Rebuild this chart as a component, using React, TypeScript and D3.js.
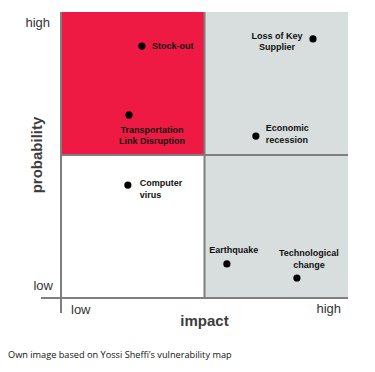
import React from 'react';
import * as d3 from 'd3';

// risks on a 0-10 impact / probability grid
const risks = ['Stock-out', 'Transportation Link Disruption', 'Loss of Key Supplier', 'Economic recession', 'Computer virus', 'Earthquake', 'Technological change'];
const impact = [2.82, 2.37, 8.78, 6.79, 2.33, 5.78, 8.22];
const probability = [8.81, 6.4, 9.06, 5.66, 3.95, 1.19, 0.7];
const labelLines = [['Stock-out'], ['Transportation', 'Link Disruption'], ['Loss of Key', 'Supplier'], ['Economic', 'recession'], ['Computer', 'virus'], ['Earthquake'], ['Technological', 'change']];
const levels = ['low', 'high'];

// label placement relative to its dot: dx, first-line dy, anchor
const placement: [number, number, string][] = [
  [10, 3, 'start'],
  [23, 18, 'middle'],
  [-36, 0, 'middle'],
  [10, -5, 'start'],
  [12, 1, 'start'],
  [7, -11, 'middle'],
  [12, -21.5, 'middle'],
];

const W = 375;
const H = 372;
const left = 61, right = 348, top = 12, bottom = 298;

export default function App() {
  const x = d3.scaleLinear().domain([0, 10]).range([left, right]);
  const y = d3.scaleLinear().domain([0, 10]).range([bottom, top]);
  const font = 'Arial, "Liberation Sans", sans-serif';
  const axisColor = '#7f7f7f';

  return (
    <svg width={W} height={H} style={{ position: 'absolute', left: 0, top: 0 }}>
      <rect width={W} height={H} fill="#fff" />
      {/* quadrants */}
      <rect x={x(0)} y={y(10)} width={x(5) - x(0)} height={y(5) - y(10)} fill="#ee1a44" />
      <rect x={x(5)} y={y(10)} width={x(10) - x(5)} height={y(5) - y(10)} fill="#d8dddd" />
      <rect x={x(5)} y={y(5)} width={x(10) - x(5)} height={y(0) - y(5)} fill="#d8dddd" />
      <rect x={x(0)} y={y(5)} width={x(5) - x(0)} height={y(0) - y(5)} fill="#fff" />
      {/* dividers */}
      <line x1={x(5)} x2={x(5)} y1={y(10)} y2={y(0)} stroke={axisColor} strokeWidth={2} />
      <line x1={x(0)} x2={x(10)} y1={y(5)} y2={y(5)} stroke={axisColor} strokeWidth={2} />
      {/* axes */}
      <line x1={x(0) - 20} x2={x(10)} y1={y(0)} y2={y(0)} stroke={axisColor} strokeWidth={2} />
      <line x1={x(0)} x2={x(0)} y1={y(10)} y2={y(0) + 15} stroke={axisColor} strokeWidth={2} />

      {/* level labels */}
      <g fontFamily={font} fontSize={13} fill="#333">
        <text x={x(0) - 11} y={y(10) + 15} textAnchor="end">{levels[1]}</text>
        <text x={x(0) - 8} y={y(0) - 8} textAnchor="end">{levels[0]}</text>
        <text x={x(0) + 10} y={y(0) + 16} textAnchor="start">{levels[0]}</text>
        <text x={x(10) - 7} y={y(0) + 15} textAnchor="end">{levels[1]}</text>
      </g>
      <g fontFamily={font} fontSize={15} fontWeight="bold" fill="#3c3c3c">
        <text x={(x(0) + x(10)) / 2} y={y(0) + 28} textAnchor="middle">impact</text>
        <text transform={`translate(42,${(y(0) + y(10)) / 2}) rotate(-90)`} textAnchor="middle">probability</text>
      </g>

      {/* risks */}
      {risks.map((r, i) => {
        const cx = x(impact[i]);
        const cy = y(probability[i]);
        const [dx, dy, anchor] = placement[i];
        return (
          <g key={r}>
            <circle cx={cx} cy={cy} r={3.6} fill="#000" />
            <text fontFamily={font} fontSize={9} fontWeight="bold" fill="#111" textAnchor={anchor}>
              {labelLines[i].map((line, j) => (
                <tspan key={j} x={cx + dx} y={cy + dy + j * 11.5}>{line}</tspan>
              ))}
            </text>
          </g>
        );
      })}

      <text x={8} y={358} fontFamily='"Open Sans", sans-serif' fontSize={9.2} fill="#111">
        Own image based on Yossi Sheffi’s vulnerability map
      </text>
    </svg>
  );
}
